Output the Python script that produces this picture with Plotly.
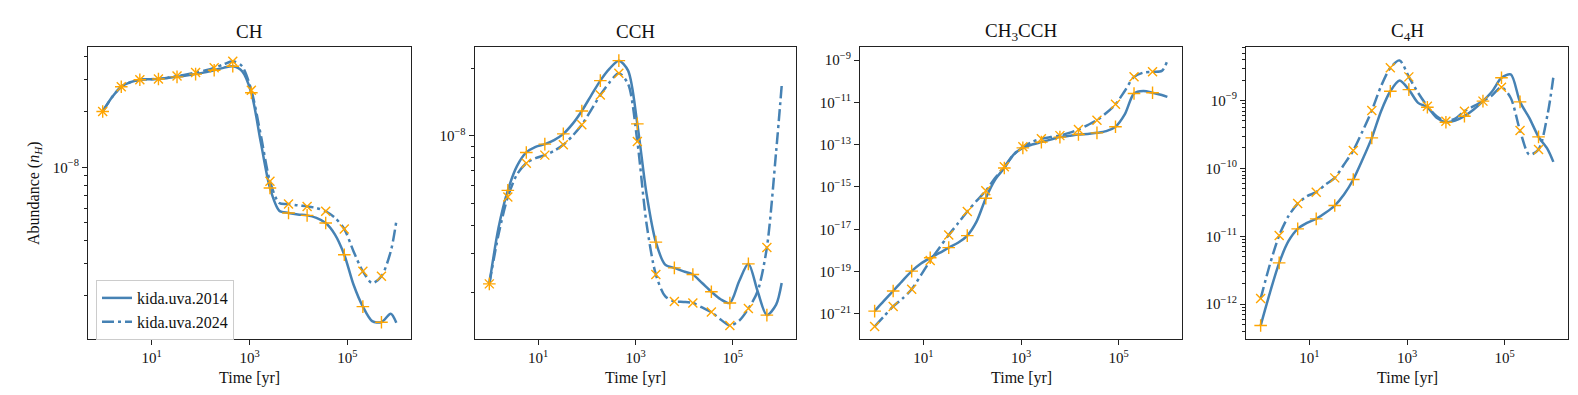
import plotly.graph_objects as go

# time grid of the model output (yr); markers sit on every second point
time_yr = [1, 1.548, 2.398, 3.712, 5.746, 8.9, 13.78, 21.33, 33.03, 51.14, 79.18,
           122.6, 189.9, 294.0, 455.1, 704.8, 1091, 1690, 2617, 4052, 6273, 9713,
           15040, 23280, 36060, 55830, 86440, 133800, 207300, 320900, 496800,
           769200, 1000000]

ch_2014 = [2.01e-8, 2.40e-8, 2.74e-8, 2.90e-8, 2.99e-8, 3.01e-8, 3.02e-8, 3.06e-8,
           3.10e-8, 3.15e-8, 3.21e-8, 3.28e-8, 3.37e-8, 3.47e-8, 3.54e-8, 3.33e-8,
           2.54e-8, 1.38e-8, 7.72e-9, 5.81e-9, 5.65e-9, 5.54e-9, 5.48e-9, 5.31e-9,
           4.98e-9, 4.31e-9, 3.35e-9, 2.30e-9, 1.75e-9, 1.46e-9, 1.44e-9, 1.60e-9, 1.43e-9]
ch_2024 = [2.01e-8, 2.40e-8, 2.74e-8, 2.90e-8, 2.99e-8, 3.01e-8, 3.02e-8, 3.07e-8,
           3.13e-8, 3.19e-8, 3.27e-8, 3.36e-8, 3.47e-8, 3.62e-8, 3.77e-8, 3.54e-8,
           2.62e-8, 1.51e-8, 8.39e-9, 6.40e-9, 6.32e-9, 6.21e-9, 6.13e-9, 6.01e-9,
           5.77e-9, 5.31e-9, 4.62e-9, 3.49e-9, 2.72e-9, 2.35e-9, 2.56e-9, 3.49e-9, 5.09e-9]

cch_2014 = [2.19e-9, 3.90e-9, 5.71e-9, 7.34e-9, 8.43e-9, 8.93e-9, 9.18e-9, 9.57e-9,
            1.02e-8, 1.13e-8, 1.29e-8, 1.51e-8, 1.76e-8, 1.99e-8, 2.16e-8, 1.95e-8,
            1.13e-8, 5.49e-9, 3.36e-9, 2.67e-9, 2.58e-9, 2.49e-9, 2.41e-9, 2.21e-9,
            2.02e-9, 1.87e-9, 1.80e-9, 2.25e-9, 2.69e-9, 2.03e-9, 1.59e-9, 1.77e-9, 2.21e-9]
cch_2024 = [2.19e-9, 3.64e-9, 5.34e-9, 6.74e-9, 7.55e-9, 7.95e-9, 8.20e-9, 8.57e-9,
            9.12e-9, 1.00e-8, 1.12e-8, 1.30e-8, 1.52e-8, 1.73e-8, 1.90e-8, 1.70e-8,
            9.44e-9, 4.04e-9, 2.41e-9, 1.93e-9, 1.83e-9, 1.82e-9, 1.80e-9, 1.72e-9,
            1.64e-9, 1.52e-9, 1.43e-9, 1.50e-9, 1.70e-9, 2.03e-9, 3.18e-9, 8.5e-9, 1.67e-8]

ch3cch_2014 = [1.35e-21, 4.07e-21, 1.20e-20, 3.63e-20, 1.05e-19, 2.40e-19, 4.47e-19,
               7.6e-19, 1.35e-18, 2.29e-18, 5.01e-18, 2.29e-17, 2.95e-16, 2.19e-15,
               7.94e-15, 3.39e-14, 7.08e-14, 1.02e-13, 1.32e-13, 1.74e-13, 2.29e-13,
               2.63e-13, 3.02e-13, 3.24e-13, 3.63e-13, 4.37e-13, 7.08e-13, 2.69e-12,
               2.63e-11, 3.47e-11, 2.88e-11, 2.24e-11, 1.82e-11]
ch3cch_2024 = [2.51e-22, 7.59e-22, 2.24e-21, 5.25e-21, 1.45e-20, 6.76e-20, 3.31e-19,
               1.35e-18, 5.37e-18, 1.91e-17, 6.92e-17, 2.19e-16, 6.61e-16, 2.63e-15,
               9.12e-15, 3.39e-14, 7.94e-14, 1.35e-13, 1.91e-13, 2.29e-13, 2.69e-13,
               3.63e-13, 5.25e-13, 8.51e-13, 1.45e-12, 3.16e-12, 8.13e-12, 3.47e-11,
               1.62e-10, 2.57e-10, 2.82e-10, 3.09e-10, 9.33e-10]

c4h_2014 = [4.85e-13, 1.47e-12, 4.06e-12, 8.47e-12, 1.29e-11, 1.58e-11, 1.81e-11, 2.22e-11,
            2.84e-11, 4.13e-11, 6.87e-11, 1.35e-10, 2.82e-10, 6.97e-10, 1.37e-9, 1.97e-9,
            1.45e-9, 9.24e-10, 7.98e-10, 5.56e-10, 4.80e-10, 5.07e-10, 5.88e-10, 7.36e-10,
            9.8e-10, 1.37e-9, 2.16e-9, 2.42e-9, 9.55e-10, 5.56e-10, 2.92e-10, 1.9e-10, 1.25e-10]
c4h_2024 = [1.21e-12, 3.85e-12, 1.03e-11, 1.98e-11, 3.04e-11, 3.9e-11, 4.47e-11, 5.8e-11,
            7.26e-11, 1.14e-10, 1.84e-10, 3.53e-10, 7.13e-10, 1.63e-9, 3.03e-9, 3.9e-9,
            2.23e-9, 1.30e-9, 8.26e-10, 5.88e-10, 4.97e-10, 5.43e-10, 6.97e-10, 8.26e-10,
            9.8e-10, 1.2e-9, 1.57e-9, 1.09e-9, 3.61e-10, 1.6e-10, 1.9e-10, 6.5e-10, 2.21e-9]

species = ["CH", "CCH", "CH<sub>3</sub>CCH", "C<sub>4</sub>H"]
networks = ["kida.uva.2014", "kida.uva.2024"]
series = [(ch_2014, ch_2024), (cch_2014, cch_2024),
          (ch3cch_2014, ch3cch_2024), (c4h_2014, c4h_2024)]

x_ticks = [10, 1000, 100000]
x_ticktext = ["10<sup>1</sup>", "10<sup>3</sup>", "10<sup>5</sup>"]
y_major_exp = [[-8], [-8], [-9, -11, -13, -15, -17, -19, -21], [-9, -10, -11, -12]]

# layout stuff
W, H = 1578, 395
FONT = "Liberation Serif"
BLUE = "#4682b4"
ORANGE = "#ffa500"
panel_px = [(80, 403), (466.7, 788.3), (852, 1174), (1238, 1560)]
ytop, ybot = 39.3, 331
yranges = [(-8.933, -7.348), (-8.905, -7.606), (-22.19, -8.393), (-12.512, -8.216)]
show_minor = [True, True, False, True]
dashes = ["solid", "12px,4px,3px,4px"]
symbols = ["cross-thin", "x-thin"]

fig = go.Figure()
layout = {}
for p in range(4):
    xa = "x" if p == 0 else "x%d" % (p + 1)
    ya = "y" if p == 0 else "y%d" % (p + 1)
    for k in range(2):
        fig.add_trace(go.Scatter(
            x=time_yr, y=series[p][k], xaxis=xa, yaxis=ya, mode="lines",
            name=networks[k], showlegend=(p == 0), legendrank=k + 1,
            line=dict(color=BLUE, width=2.5, dash=dashes[k], shape="spline", smoothing=0.8)))
    for k in range(2):
        fig.add_trace(go.Scatter(
            x=time_yr[:31:2], y=series[p][k][:31:2], xaxis=xa, yaxis=ya, mode="markers",
            showlegend=False,
            marker=dict(symbol=symbols[k], size=9, color=ORANGE,
                        line=dict(color=ORANGE, width=1.4))))

    x0, x1 = panel_px[p]
    exps = y_major_exp[p]
    minor = []
    if show_minor[p]:
        for d in range(int(yranges[p][0]) - 2, int(yranges[p][1]) + 2):
            for m in range(2, 10):
                minor.append(m * 10.0 ** d)
    axis_common = dict(showline=True, linecolor="#222", linewidth=1.2, mirror=True,
                       ticks="outside", tickcolor="#222", tickwidth=1, showgrid=False,
                       zeroline=False, tickfont=dict(family=FONT, size=15, color="#111"))
    layout["xaxis" if p == 0 else "xaxis%d" % (p + 1)] = dict(
        axis_common, type="log", domain=[x0 / W, x1 / W], range=[-0.3, 6.3],
        anchor=ya, tickvals=x_ticks, ticktext=x_ticktext, ticklen=5, ticklabelstandoff=0)
    layout["yaxis" if p == 0 else "yaxis%d" % (p + 1)] = dict(
        axis_common, type="log", domain=[1 - ybot / H, 1 - ytop / H], range=list(yranges[p]),
        anchor=xa, tickvals=[10.0 ** e for e in exps],
        ticktext=["10<sup>\u2212%d</sup>" % (-e) for e in exps], ticklen=5,
        minor=dict(tickvals=minor, ticklen=2.5, tickcolor="#222", ticks="outside", showgrid=False))

annotations = []
for p in range(4):
    x0, x1 = panel_px[p]
    annotations.append(dict(text=species[p], x=(x0 + x1) / 2 / W, y=1 - 24 / H,
                            xref="paper", yref="paper", showarrow=False,
                            xanchor="center", yanchor="middle",
                            font=dict(family=FONT, size=19, color="#111")))
    annotations.append(dict(text="Time [yr]", x=(x0 + x1) / 2 / W, y=1 - 370 / H,
                            xref="paper", yref="paper", showarrow=False,
                            xanchor="center", yanchor="middle",
                            font=dict(family=FONT, size=16, color="#111")))
annotations.append(dict(text="Abundance (<i>n<sub>H</sub></i>)", x=26 / W, y=1 - 185 / H,
                        xref="paper", yref="paper", showarrow=False, textangle=-90,
                        xanchor="center", yanchor="middle",
                        font=dict(family=FONT, size=16, color="#111")))

fig.update_layout(
    width=W, height=H, margin=dict(l=0, r=0, t=0, b=0),
    paper_bgcolor="white", plot_bgcolor="white",
    annotations=annotations,
    legend=dict(x=88 / W, y=1 - 272 / H, xanchor="left", yanchor="top",
                bgcolor="rgba(255,255,255,0.8)", bordercolor="#cccccc", borderwidth=1,
                font=dict(family=FONT, size=16, color="#111"), itemwidth=30,
                tracegroupgap=0),
    **layout)

fig.write_html("out.html")
